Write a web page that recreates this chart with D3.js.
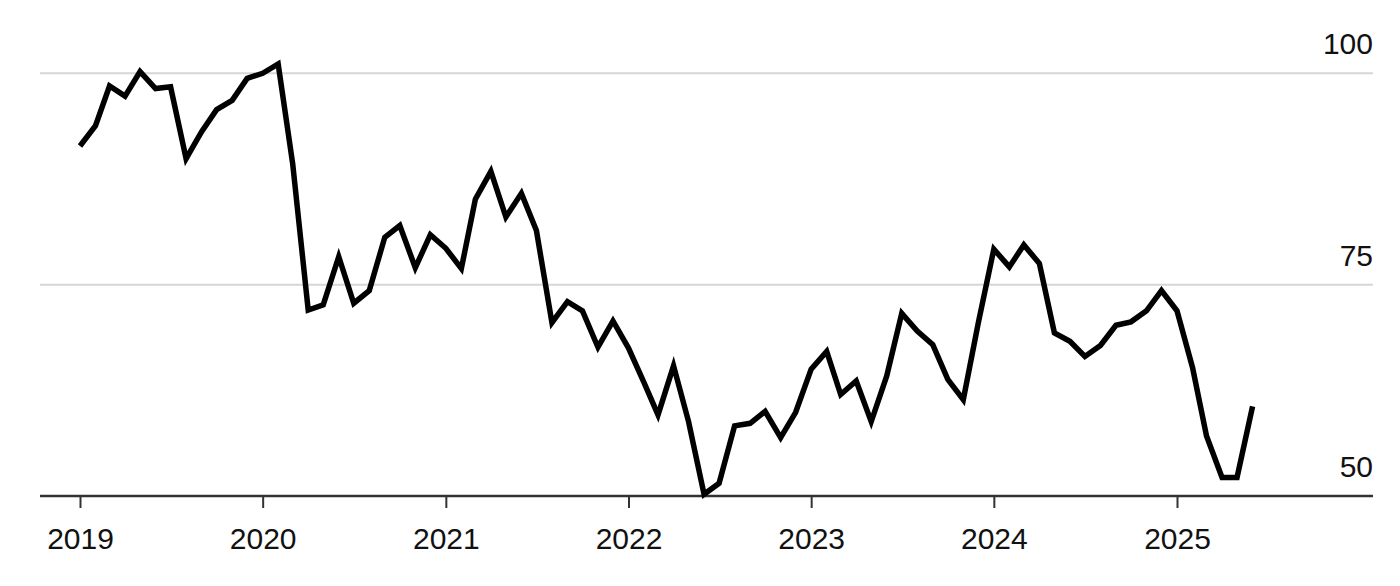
<!DOCTYPE html>
<html>
<head>
<meta charset="utf-8">
<script src="https://cdn.jsdelivr.net/npm/d3@7"></script>
<style>
  body { margin: 0; background: #fff; }
  text { font-family: "Liberation Sans", Arial, sans-serif; fill: #111; }
</style>
</head>
<body>
<script>
let w = 1400;
let h = 586;

// monthly values, Jan 2019 .. Jun 2025
let startYear = 2019;
let values = [
  91.4, 93.8, 98.5, 97.3, 100.2, 98.2, 98.4, 89.9, 93.1, 95.7, 96.8, 99.4,   // 2019
  100.0, 101.1, 89.3, 72.0, 72.6, 78.3, 72.8, 74.3, 80.6, 82.0, 77.0, 80.9,  // 2020
  79.3, 76.9, 85.1, 88.4, 83.0, 85.8, 81.4, 70.5, 73.0, 71.9, 67.6, 70.7,    // 2021
  67.5, 63.4, 59.6, 65.4, 58.8, 50.2, 51.5, 58.3, 58.6, 60.0, 56.9, 59.9,    // 2022
  65.0, 67.1, 62.0, 63.6, 58.8, 64.2, 71.6, 69.5, 67.9, 63.8, 61.4, 70.5,    // 2023
  79.2, 77.1, 79.7, 77.5, 69.3, 68.3, 66.5, 67.8, 70.2, 70.6, 71.9, 74.3,    // 2024
  71.9, 65.2, 57.1, 52.2, 52.2, 60.6                                         // 2025
];
let yearTicks = [2019, 2020, 2021, 2022, 2023, 2024, 2025];
let yTicks = [50, 75, 100];

let dataset = values.map((v, i) => ({ date: new Date(startYear, i, 1), value: v }));

let left = 40;
let right = 1373;

let svg = d3.select("body")
            .append("svg")
            .attr("width", w)
            .attr("height", h);

let xScale = d3.scaleTime()
              .domain([new Date(2019, 0, 1), new Date(2025, 0, 1)])
              .range([80, 1177]);

let yScale = d3.scaleLinear()
              .domain([50, 100])
              .range([496, 73.3]);

// gridlines + labels on the right
let grid = svg.append("g").attr("class", "grid");

grid.selectAll("line")
    .data(yTicks.filter(d => d > 50))
    .enter()
    .append("line")
    .attr("x1", left)
    .attr("x2", right)
    .attr("y1", d => yScale(d))
    .attr("y2", d => yScale(d))
    .attr("stroke", "#d6d6d6")
    .attr("stroke-width", 2);

grid.selectAll("text")
    .data(yTicks)
    .enter()
    .append("text")
    .attr("x", right)
    .attr("y", d => yScale(d) - 19)
    .attr("text-anchor", "end")
    .style("font-size", "30px")
    .text(d => d);

// x axis
let xAxis = d3.axisBottom(xScale)
              .tickValues(yearTicks.map(y => new Date(y, 0, 1)))
              .tickFormat(d3.timeFormat("%Y"))
              .tickSize(12)
              .tickPadding(20);

let gx = svg.append("g")
    .attr("id", "x-axis")
    .attr("transform", "translate(0," + yScale(50) + ")")
    .call(xAxis);

gx.select(".domain").remove();
gx.selectAll(".tick line").attr("stroke", "#333").attr("stroke-width", 2);
gx.selectAll(".tick text")
  .style("font-size", "30px")
  .style("font-family", "'Liberation Sans', Arial, sans-serif")
  .attr("fill", "#111");

gx.append("line")
  .attr("x1", left)
  .attr("x2", right)
  .attr("y1", 0)
  .attr("y2", 0)
  .attr("stroke", "#333")
  .attr("stroke-width", 2.5);

// the series
let line = d3.line()
             .x(d => xScale(d.date))
             .y(d => yScale(d.value));

svg.append("path")
   .datum(dataset)
   .attr("d", line)
   .attr("fill", "none")
   .attr("stroke", "#000")
   .attr("stroke-width", 5.5)
   .attr("stroke-linejoin", "miter");
</script>
</body>
</html>
